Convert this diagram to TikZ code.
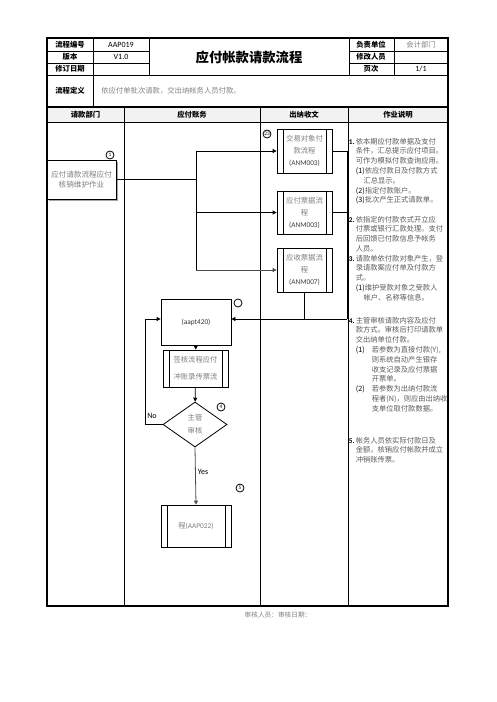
\documentclass[tikz,border=0pt]{standalone}
\usepackage{fontspec}
\setmainfont{Noto Sans CJK SC}
\newfontfamily\latin{Carlito}
\usetikzlibrary{shapes.geometric,arrows.meta,shadows}
\newcommand{\pxu}{0.75pt}
\definecolor{txtgray}{HTML}{808080}
\definecolor{descgray}{HTML}{5A5A5A}
\tikzset{
  lbl/.style={font=\bfseries\fontsize{5.5pt}{6pt}\selectfont},
  cell/.style={font=\latin\fontsize{6pt}{7pt}\selectfont},
  procbox/.style={draw, fill=white, inner sep=0pt, align=center, text=txtgray,
    font=\fontsize{5.5pt}{9pt}\selectfont},
  subproc/.style={procbox, path picture={
    \draw ([xshift=4.5pt]path picture bounding box.north west) -- ([xshift=4.5pt]path picture bounding box.south west)
          ([xshift=-4.5pt]path picture bounding box.north east) -- ([xshift=-4.5pt]path picture bounding box.south east);}},
  decision/.style={diamond, draw, fill=white, aspect=1.42, inner sep=0pt, align=center, text=txtgray,
    font=\fontsize{5.5pt}{9.75pt}\selectfont},
  stepmark/.style={circle, draw, fill=white, inner sep=0pt, minimum size={8*\pxu}, font=\latin\fontsize{4pt}{4pt}\selectfont},
  flow/.style={-{Triangle[length=3pt,width=3pt]}},
  desc/.style={anchor=north west, inner sep=0pt, align=left, text=descgray, font=\fontsize{5.45pt}{7.35pt}\selectfont},
}
\begin{document}
\begin{tikzpicture}[x=0.75pt,y=-0.75pt,line width=0.6pt]
\useasboundingbox (0,0) rectangle (496,702);
% table frame
\fill[gray!10] (47,107) rectangle (448,122);
\draw[line width=0.9pt] (47,38) rectangle (448,606);
\draw (47,51) -- (149,51) (349,51) -- (448,51);
\draw (47,63) -- (149,63) (349,63) -- (448,63);
\draw (47,75) -- (448,75);
\draw[line width=1.8pt] (47,107) -- (448,107);
\draw (47,122) -- (448,122);
\draw (93,38) -- (93,107);
\draw (149,38) -- (149,75);
\draw (349,38) -- (349,75);
\draw (394,38) -- (394,75);
\draw (124,107) -- (124,606);
\draw (260,107) -- (260,606);
\draw (348,107) -- (348,606);
% header texts
\node[lbl] (hno) at (70,44.5) {流程编号};
\node[cell] (vno) at (121,44.5) {AAP019};
\node[lbl] (hver) at (70,57) {版本};
\node[cell] (vver) at (121,57) {V1.0};
\node[lbl] (hdate) at (70,69) {修订日期};
\node[font=\bfseries\fontsize{10pt}{12pt}\selectfont] (ttl) at (249,57) {应付帐款请款流程};
\node[lbl] (hdep) at (371,44.5) {负责单位};
\node[text=txtgray, font=\fontsize{5.5pt}{6pt}\selectfont] (vdep) at (421,44.5) {会计部门};
\node[lbl] (hmod) at (371,57) {修改人员};
\node[lbl] (hpg) at (371,69) {页次};
\node[cell] (vpg) at (421,69) {1/1};
\node[lbl] (hdef) at (70,91) {流程定义};
\node[anchor=west, inner sep=0pt, text=txtgray, font=\fontsize{5.5pt}{6pt}\selectfont] (vdef) at (101,91) {依应付单批次请款，交出纳帐务人员付款。};
\node[lbl] (lane1) at (85.5,115) {请款部门};
\node[lbl] (lane2) at (192,115) {应付账务};
\node[lbl] (lane3) at (304,115) {出纳收文};
\node[lbl] (lane4) at (398,115) {作业说明};
% flow nodes
\node[procbox, font=\fontsize{5.7pt}{7.5pt}\selectfont, minimum width={69*\pxu}, minimum height={39*\pxu},
  drop shadow={shadow xshift=1.2pt, shadow yshift=-1.2pt, fill=gray!70, opacity=1}] (req) at (81.5,179.5) {应付请款流程应付\\核销维护作业};
\node[subproc, minimum width={55*\pxu}, minimum height={44*\pxu}] (anm1) at (304.5,151) {交易对象付\\款流程\\{\color{black!75}\latin (ANM003)}};
\node[subproc, minimum width={55*\pxu}, minimum height={43*\pxu}] (anm2) at (304.5,212.5) {应付票据流\\程\\{\color{black!75}\latin (ANM003)}};
\node[subproc, minimum width={55*\pxu}, minimum height={44*\pxu}] (anm3) at (304.5,270) {应收票据流\\程\\{\color{black!75}\latin (ANM007)}};
\node[procbox, text=black!80, minimum width={70*\pxu}, minimum height={46*\pxu}] (aapt) at (196,322) {\latin (aapt420)};
\node[subproc, font=\fontsize{5.5pt}{12.75pt}\selectfont, minimum width={65*\pxu}, minimum height={37*\pxu}] (chk) at (195.5,368.5) {签核流程应付\\冲账录传票流};
\node[decision, minimum width={64*\pxu}, minimum height={45*\pxu}] (dia) at (195,424.5) {主管\\审核};
\node[subproc, minimum width={70*\pxu}, minimum height={42*\pxu}] (pay) at (196,526) {程{\latin (AAP022)}};
% step marks
\node[stepmark] (s1) at (110,155) {1};
\node[stepmark] (s23) at (267,134) {23};
\node[stepmark] (s3) at (238,303) {};
\node[stepmark] (s4) at (221,407) {4};
\node[stepmark] (s5) at (240,488) {5};
% connectors
\coordinate (bx) at (196,181);
\coordinate (rj) at (347,319);
\coordinate (lp) at (145,319);
\draw (req.east) -- (req.east -| bx);
\draw (bx |- anm1) -- (bx |- anm3);
\draw[flow] (bx |- anm1) -- (anm1.west);
\draw[flow] (bx |- anm2) -- (anm2.west);
\draw[flow, black!70] (bx |- anm3) -- (anm3.west);
\draw (anm1.east) -| (rj);
\draw (anm2.east) -- (anm2.east -| rj);
\draw (anm3.south) -- (anm3.south |- rj);
\draw[flow] (rj) -- (rj -| aapt.east);
\draw[flow] (aapt) -- (chk);
\draw[flow] (chk) -- (dia);
\draw[flow] (dia.west) -| (lp) -- (lp -| aapt.west);
\draw[flow, black!70] (dia.south) -- (pay.north) node[pos=0.43, right, inner sep=1.5pt, cell, text=black] {Yes};
\node[cell] (no) at (152,416) {No};
% description column
\node[desc] (d1) at (348.5,137.5) {\makebox[5.25pt][l]{\color{black}\bfseries\latin 1.}依本期应付款单据及支付\\
\hspace*{5.25pt}条件，汇总提示应付项目。\\
\hspace*{5.25pt}可作为模拟付款查询应用。\\
\hspace*{5.25pt}{\color{black}(1)}依应付款日及付款方式\\
\hspace*{11pt}汇总显示。\\
\hspace*{5.25pt}{\color{black}(2)}指定付款账户。\\
\hspace*{5.25pt}{\color{black}(3)}批次产生正式请款单。};
\node[desc] (d2) at (348.5,215.5) {\makebox[5.25pt][l]{\color{black}\bfseries\latin 2.}依指定的付款衣式开立应\\
\hspace*{5.25pt}付票或银行汇款处理。支付\\
\hspace*{5.25pt}后回馈已付款信息予帐务\\
\hspace*{5.25pt}人员。};
\node[desc] (d3) at (348.5,254.5) {\makebox[5.25pt][l]{\color{black}\bfseries\latin 3.}请款单依付款对象产生，登\\
\hspace*{5.25pt}录请款案应付单及付款方\\
\hspace*{5.25pt}式。\\
\hspace*{5.25pt}{\color{black}(1)}维护受款对象之受款人\\
\hspace*{11pt}帐户、名称等信息。};
\node[desc] (d4) at (348.5,316.5) {\makebox[5.25pt][l]{\color{black}\bfseries\latin 4.}主管审核请款内容及应付\\
\hspace*{5.25pt}款方式。审核后打印请款单\\
\hspace*{5.25pt}交出纳单位付款。\\
\hspace*{5.25pt}\makebox[12pt][l]{\color{black}(1)}若参数为直接付款(Y),\\
\hspace*{17.25pt}则系统自动产生银存\\
\hspace*{17.25pt}收支记录及应付票据\\
\hspace*{17.25pt}开票单。\\
\hspace*{5.25pt}\makebox[12pt][l]{\color{black}(2)}若参数为出纳付款流\\
\hspace*{17.25pt}程者(N)，则应由出纳收\\
\hspace*{17.25pt}支单位取付款数据。};
\node[desc] (d5) at (348.5,436.5) {\makebox[5.25pt][l]{\color{black}\bfseries\latin 5.}帐务人员依实际付款日及\\
\hspace*{5.25pt}金额，核销应付帐款并成立\\
\hspace*{5.25pt}冲销账传票。};
% footer
\node[text=txtgray, font=\fontsize{5pt}{6pt}\selectfont] (foot) at (278,615) {审核人员：审核日期：};
\end{tikzpicture}
\end{document}
